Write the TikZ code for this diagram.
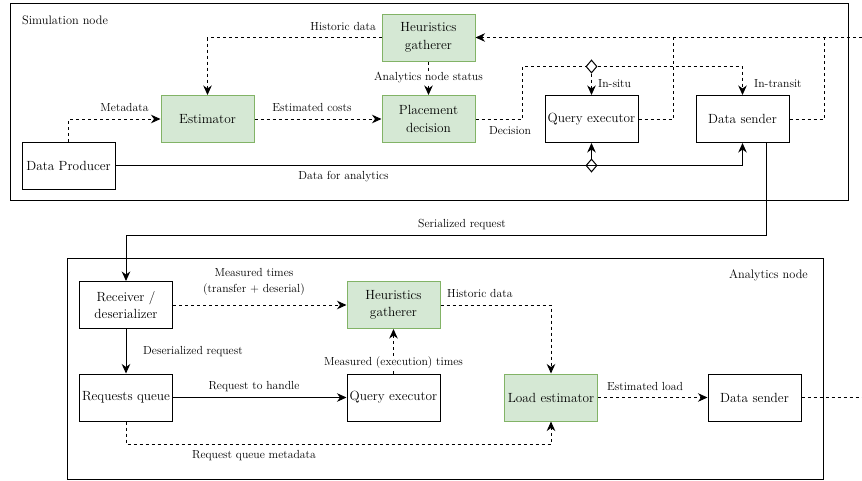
\documentclass[tikz,border=0pt]{standalone}
\usetikzlibrary{arrows.meta,shapes.geometric}
\definecolor{gfill}{HTML}{D5E8D4}
\definecolor{gline}{HTML}{82B366}
\tikzset{
  box/.style={draw=black,line width=1pt,minimum width=93pt,minimum height=47pt,inner sep=1pt,align=center,font=\fontsize{13.3}{17.5}\selectfont},
  gbox/.style={box,draw=gline,fill=gfill},
  lbl/.style={font=\fontsize{11.7}{15.5}\selectfont,inner sep=1pt,align=center},
  conn/.style={line width=1pt,-{Stealth[length=9.5pt,width=8.5pt,inset=3pt]}},
  plain/.style={line width=1pt},
  dsh/.style={dash pattern=on 3pt off 3pt},
  dmd/.style={diamond,draw=black,fill=white,line width=1pt,minimum width=11pt,minimum height=13pt,inner sep=0pt},
  area/.style={draw=black,line width=1pt}
}
\begin{document}
\begin{tikzpicture}[x=1pt,y=-1pt]
\useasboundingbox (0,0) rectangle (862,480);
% containers
\draw[area] (10,3) rectangle (848,200);
\node[lbl,anchor=west,font=\fontsize{12.3}{16}\selectfont] (simlbl) at (21,20) {Simulation node};
\draw[area] (67,258) rectangle (823,479);
\node[lbl,anchor=east,font=\fontsize{12.3}{16}\selectfont] (anlbl) at (809,275) {Analytics node};

% simulation nodes
\node[gbox] (hg1) at (428.5,37.5) {Heuristics\\gatherer};
\node[gbox] (est) at (207.5,119) {Estimator};
\node[gbox] (pd) at (428.5,119) {Placement\\decision};
\node[box] (dp) at (68.5,165.5) {Data Producer};
\node[box] (qe1) at (591.5,119) {Query executor};
\node[box] (ds1) at (742.5,119) {Data sender};
\node[dmd] (d1) at (591.5,66.5) {};
\node[dmd] (d2) at (591.5,165.5) {};

% analytics nodes
\node[box] (recv) at (126,305) {Receiver /\\deserializer};
\node[box] (rq) at (126,397.5) {Requests queue};
\node[gbox] (hg2) at (393.5,305) {Heuristics\\gatherer};
\node[box] (qe2) at (393.5,397.5) {Query executor};
\node[gbox] (le) at (551,397.5) {Load estimator};
\node[box] (ds2) at (754.5,397.5) {Data sender};

\coordinate (farR) at (862,37.5);
\coordinate (farR2) at (862,397.5);

% simulation connectors
\draw[conn,dsh] (hg1.west) -- (207.5,37.5) -- (est.north);
\node[lbl,anchor=east] (l1) at (377,26) {Historic data};
\draw[conn,dsh] (hg1.south) -- (pd.north);
\node[lbl,fill=white] (l2) at (428.5,78) {Analytics node status};
\draw[conn,dsh] (dp.north) -- (68.5,119) -- (est.west);
\node[lbl] (l3) at (124.5,107) {Metadata};
\draw[conn,dsh] (est.east) -- (pd.west);
\node[lbl] (l4) at (312,107) {Estimated costs};
\draw[plain,dsh] (pd.east) -- (522,119) -- (522,66.5) -- (d1.west);
\draw[conn,dsh] (d1.east) -- (742.5,66.5) -- (ds1.north);
\draw[conn,dsh] (d1.south) -- (qe1.north);
\node[lbl] (l5) at (510,131) {Decision};
\node[lbl,anchor=west] (l6) at (597,84) {In-situ};
\node[lbl,anchor=west] (l7) at (753,84) {In-transit};
\draw[plain,dsh] (qe1.east) -- (673,119) -- (673,37.5);
\draw[plain,dsh] (ds1.east) -- (824,119) -- (824,37.5);
\draw[conn,dsh] (farR) -- (hg1.east);
\draw[conn] (dp.east) -- (742.5,165.5) -- (ds1.south);
\draw[conn] (d2.north) -- (qe1.south);
\node[lbl] (l8) at (343.5,177) {Data for analytics};

% serialized request
\draw[conn] (ds1.south -| 766,0) -- (766,235) -- (126,235) -- (recv.north);
\node[lbl] (l9) at (462,225) {Serialized request};

% analytics connectors
\draw[conn,dsh] (recv.east) -- (hg2.west);
\node[lbl] (l10) at (254,282) {Measured times\\(transfer + deserial)};
\draw[conn] (recv.south) -- (rq.north);
\node[lbl,anchor=west] (l11) at (142,352) {Deserialized request};
\draw[conn] (rq.east) -- (qe2.west);
\node[lbl] (l12) at (254,387) {Request to handle};
\draw[conn,dsh] (qe2.north) -- (hg2.south);
\node[lbl,fill=white] (l13) at (393.5,363) {Measured (execution) times};
\draw[conn,dsh] (hg2.east) -- (551,305) -- (le.north);
\node[lbl,anchor=west] (l14) at (446,293) {Historic data};
\draw[conn,dsh] (rq.south) -- (126,444) -- (551,444) -- (le.south);
\node[lbl] (l15) at (254,456) {Request queue metadata};
\draw[conn,dsh] (le.east) -- (ds2.west);
\node[lbl] (l16) at (645,386) {Estimated load};
\draw[plain,dsh] (ds2.east) -- (farR2);
\end{tikzpicture}
\end{document}
